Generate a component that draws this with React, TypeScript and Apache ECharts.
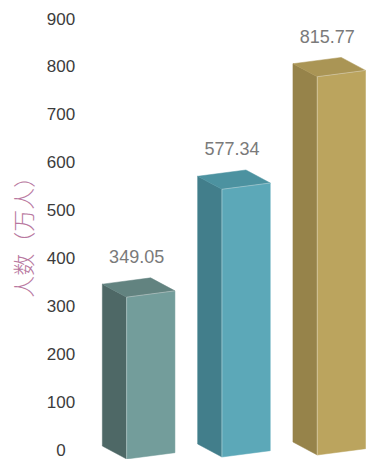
import React, { useEffect, useRef } from 'react';
import * as echarts from 'echarts';

const categories = ['第一组', '第二组', '第三组'];
const values = [349.05, 577.34, 815.77];
const axisName = '人数（万人）';
const yMin = 0;
const yMax = 900;
const yInterval = 100;

const frontColors = ['#739D9B', '#5CA8B8', '#BBA45E'];
const leftColors = ['#4E6866', '#427E8B', '#96834A'];
const topColors = ['#628380', '#4C92A0', '#AA9555'];

export default function App() {
  const ref = useRef<HTMLDivElement>(null);
  useEffect(() => {
    if (!ref.current) return;
    const chart = echarts.init(ref.current, null, { renderer: 'svg' });
    const L = [-24.3, -13];
    const R = [48.3, -6.3];
    const add = (p: number[], d: number[]) => [p[0] + d[0], p[1] + d[1]];
    const renderItem = (params: any, api: any) => {
      const i = api.value(0);
      const v = api.value(1);
      const top = api.coord([i, v]);
      const base = api.coord([i, 0]);
      const tilt = -2 * i;
      const fx = top[0] - 12;
      const F = [fx, top[1] + tilt];
      const B = [fx, base[1] + tilt];
      const edge = 'rgba(255,255,255,0.35)';
      return {
        type: 'group',
        children: [
          {
            type: 'polygon',
            shape: { points: [add(F, L), F, B, add(B, L)] },
            style: { fill: leftColors[i], stroke: leftColors[i], lineWidth: 0.5 },
          },
          {
            type: 'polygon',
            shape: { points: [F, add(F, R), add(B, R), B] },
            style: { fill: frontColors[i], stroke: frontColors[i], lineWidth: 0.5 },
          },
          {
            type: 'polygon',
            shape: { points: [add(F, L), add(add(F, L), R), add(F, R), F] },
            style: { fill: topColors[i], stroke: topColors[i], lineWidth: 0.5 },
          },
          {
            type: 'polyline',
            shape: { points: [B, F, add(F, R)] },
            style: { fill: null, stroke: edge, lineWidth: 1 },
          },
          {
            type: 'text',
            x: fx + 10,
            y: F[1] - 40,
            style: {
              text: String(values[i].toFixed(2)),
              fill: '#7a7a7a',
              fontSize: 18,
              fontFamily: 'Liberation Sans, Arial, sans-serif',
              align: 'center',
              verticalAlign: 'middle',
            },
          },
        ],
      };
    };
    chart.setOption({
      animation: false,
      grid: [
        { left: 91, top: 19, height: 433.5, width: 275 },
        { left: 91, width: 275, top: 459 - 900 * 0.4637, bottom: 0 },
      ],
      xAxis: [
        { gridIndex: 0, type: 'category', data: categories, show: false },
        { gridIndex: 1, type: 'value', min: -0.5, max: -0.5 + 275 / 95.3, show: false },
      ],
      yAxis: [
        {
          gridIndex: 0,
          type: 'value',
          min: yMin,
          max: yMax,
          interval: yInterval,
          name: axisName,
          nameLocation: 'middle',
          nameRotate: 90,
          nameGap: 58,
          nameTextStyle: {
            color: '#B878A0',
            fontSize: 22,
            fontWeight: 300,
            fontFamily: 'Noto Sans CJK SC, sans-serif',
            padding: [0, 0, 0, 6],
          },
          axisLine: { show: false },
          axisTick: { show: false },
          splitLine: { show: false },
          axisLabel: {
            align: 'center',
            margin: 30,
            color: '#3c3c3c',
            fontSize: 17,
            fontFamily: 'Liberation Sans, Arial, sans-serif',
          },
        },
        { gridIndex: 1, type: 'value', min: yMin, max: yMax, show: false },
      ],
      series: [
        {
          type: 'custom',
          name: '人数',
          xAxisIndex: 1,
          yAxisIndex: 1,
          renderItem,
          clip: false,
          encode: { x: 0, y: 1 },
          data: values.map((v, i) => [i, v]),
        },
      ],
    });
    return () => chart.dispose();
  }, []);
  return (
    <div
      ref={ref}
      style={{ position: 'fixed', left: 0, top: 0, width: 366, height: 459, background: '#fff' }}
    />
  );
}
